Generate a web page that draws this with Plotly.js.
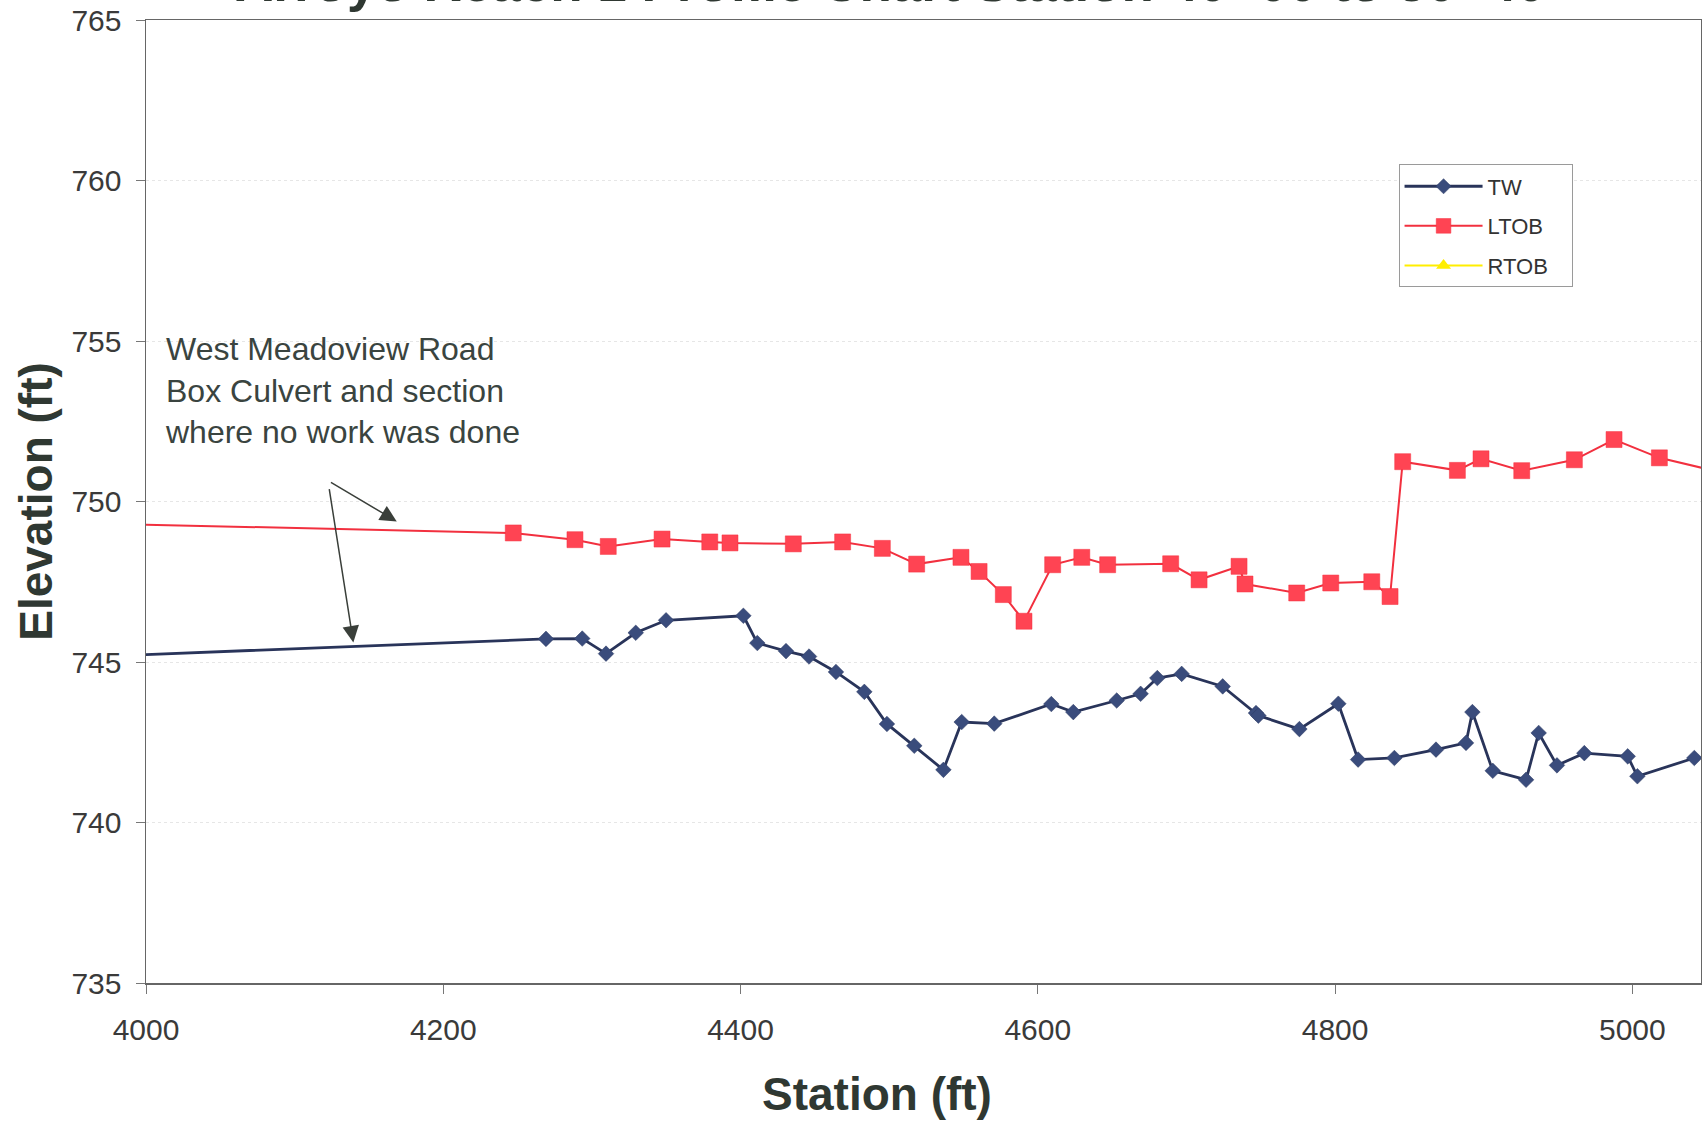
<!DOCTYPE html>
<html>
<head>
<meta charset="utf-8">
<script src="https://cdn.plot.ly/plotly-3.0.1.min.js"></script>
<style>
  html, body { margin: 0; padding: 0; background: #ffffff; }
  #chart { width: 1702px; height: 1121px; }
</style>
</head>
<body>
<div id="chart"></div>
<script>
// ---- data ----
const seriesNames = ["TW", "LTOB", "RTOB"];

const twStation = [3999, 4269.1, 4293.5, 4309.5, 4329.5, 4349.9, 4401.9, 4411.3, 4430.6, 4446.1,
  4464.2, 4483.3, 4498.5, 4516.9, 4536.5, 4548.8, 4570.7, 4609.1, 4623.9, 4653.1,
  4669.2, 4680.4, 4696.8, 4724.4, 4746.8, 4748.4, 4776.0, 4802.2, 4815.5, 4839.9,
  4867.9, 4888.1, 4892.4, 4906.1, 4928.5, 4937.0, 4949.3, 4967.7, 4996.9, 5003.4, 5041.7];
const twElev = [745.23, 745.72, 745.73, 745.26, 745.91, 746.30, 746.44, 745.59, 745.34, 745.17,
  744.69, 744.07, 743.07, 742.39, 741.64, 743.13, 743.08, 743.69, 743.44, 743.80,
  744.01, 744.50, 744.63, 744.24, 743.41, 743.33, 742.91, 743.70, 741.96, 742.01,
  742.27, 742.48, 743.44, 741.61, 741.33, 742.79, 741.78, 742.16, 742.06, 741.44, 742.01];

const ltobStation = [3996, 3999, 4247.1, 4288.6, 4311.0, 4347.2, 4379.3, 4392.9, 4435.5, 4468.7,
  4495.4, 4518.5, 4548.3, 4560.5, 4576.8, 4590.7, 4610.0, 4629.6, 4647.0, 4689.4,
  4708.5, 4735.4, 4739.4, 4774.2, 4797.1, 4824.7, 4837.0, 4845.5, 4882.3, 4898.2,
  4925.6, 4961.0, 4987.7, 5018.2, 5065];
const ltobElev = [751.0, 749.28, 749.02, 748.81, 748.60, 748.83, 748.74, 748.71, 748.68, 748.74,
  748.54, 748.05, 748.26, 747.82, 747.10, 746.27, 748.03, 748.26, 748.03, 748.06,
  747.56, 747.98, 747.43, 747.15, 747.46, 747.50, 747.04, 751.24, 750.97, 751.33,
  750.96, 751.30, 751.93, 751.36, 750.85];

const rtobStation = [];
const rtobElev = [];

const xRange = [4000, 5046.2];
const yRange = [735, 765];

const chartTitle = "Arroyo Reach 1 Profile Chart Station 40+00 to 50+40";
const xTitle = "Station (ft)";
const yTitle = "Elevation (ft)";
const noteText = "West Meadoview Road<br>Box Culvert and section<br>where no work was done";

// ---- styling ----
const FONT = '"Liberation Sans", Arial, Helvetica, sans-serif';
const sizesFor = (xs, s) => xs.map(v => (v < xRange[0] || v > xRange[1]) ? 0 : s);
const pad = s => s + '\u00a0\u00a0\u00a0';

const traces = [
  {
    name: pad(seriesNames[0]), legendgroup: 'g1',
    x: twStation, y: twElev, type: 'scatter', mode: 'lines+markers',
    line: { color: '#29345a', width: 2.8 },
    marker: { symbol: 'diamond', size: sizesFor(twStation, 12), color: '#3a4c7c', opacity: 1,
              line: { color: '#2c3a62', width: 0.5 } }
  },
  {
    name: pad(seriesNames[1]), legendgroup: 'g2',
    x: ltobStation, y: ltobElev, type: 'scatter', mode: 'lines+markers',
    line: { color: '#f2303f', width: 2 },
    marker: { symbol: 'square', size: sizesFor(ltobStation, 16), color: '#ff4453', opacity: 1,
              line: { color: '#f5303f', width: 0.5 } }
  },
  {
    name: pad(seriesNames[2]), legendgroup: 'g3',
    x: rtobStation.length ? rtobStation : [null], y: rtobElev.length ? rtobElev : [null],
    type: 'scatter', mode: 'lines+markers',
    line: { color: '#ffee00', width: 2 },
    marker: { symbol: 'triangle-up', size: 13, color: '#ffee00', opacity: 1 }
  }
];

const layout = {
  width: 1702, height: 1121,
  margin: { l: 146, r: 1, t: 20, b: 138, pad: 0 },
  paper_bgcolor: '#ffffff', plot_bgcolor: '#ffffff',
  font: { family: FONT, color: '#333333' },
  showlegend: true,
  legend: {
    x: 0.8055, y: 0.85, xanchor: 'left', yanchor: 'top',
    bgcolor: '#ffffff', bordercolor: '#9a9a9a', borderwidth: 1,
    font: { family: FONT, size: 22, color: '#333333' },
    traceorder: 'grouped', tracegroupgap: 8, itemwidth: 78
  },
  xaxis: {
    range: xRange, tick0: 4000, dtick: 200, tickmode: 'linear',
    showgrid: false, zeroline: false,
    showline: true, linecolor: '#666666', linewidth: 1.5, mirror: true,
    ticks: 'outside', ticklen: 9, tickcolor: '#777777', tickwidth: 1,
    ticklabelstandoff: 10,
    tickfont: { family: FONT, size: 30, color: '#3a3a3a' }
  },
  yaxis: {
    range: yRange, tick0: 735, dtick: 5, tickmode: 'linear',
    showgrid: true, gridcolor: '#e6e6e6', griddash: 'dot', gridwidth: 1,
    zeroline: false,
    showline: true, linecolor: '#666666', linewidth: 1.5, mirror: true,
    ticks: 'outside', ticklen: 9, tickcolor: '#777777', tickwidth: 1,
    ticklabelstandoff: 8,
    tickfont: { family: FONT, size: 30, color: '#3a3a3a' },
    title: { text: yTitle, standoff: 4,
             font: { family: FONT, size: 46, color: '#2f3832', weight: 'bold' } }
  },
  annotations: [
    { // chart title (clipped at the top edge, as in the reference)
      xref: 'paper', yref: 'paper', x: 0.4785, y: 1.0065,
      xanchor: 'center', yanchor: 'bottom', showarrow: false,
      text: '<b>' + chartTitle + '</b>',
      font: { family: FONT, size: 53, color: '#2f3832' }
    },
    { // x axis title
      xref: 'paper', yref: 'paper', x: 0.470, y: -0.115,
      xanchor: 'center', yanchor: 'middle', showarrow: false,
      text: '<b>' + xTitle + '</b>',
      font: { family: FONT, size: 46, color: '#2f3832' }
    },
    { // note
      xref: 'x', yref: 'y', x: 4011.5, y: 753.46,
      xanchor: 'left', yanchor: 'middle', align: 'left', showarrow: false,
      text: noteText,
      font: { family: FONT, size: 32, color: '#3a4440' }
    },
    { xref: 'x', yref: 'y', axref: 'x', ayref: 'y',
      x: 4168.7, y: 749.38, ax: 4122.4, ay: 750.65,
      showarrow: true, arrowhead: 2, arrowsize: 2.2, arrowwidth: 1.5, arrowcolor: '#3a3f3a' },
    { xref: 'x', yref: 'y', axref: 'x', ayref: 'y',
      x: 4139.5, y: 745.61, ax: 4122.4, ay: 750.65,
      showarrow: true, arrowhead: 2, arrowsize: 2.2, arrowwidth: 1.5, arrowcolor: '#3a3f3a' }
  ]
};

Plotly.newPlot('chart', traces, layout, { displayModeBar: false, staticPlot: true });
</script>
</body>
</html>
